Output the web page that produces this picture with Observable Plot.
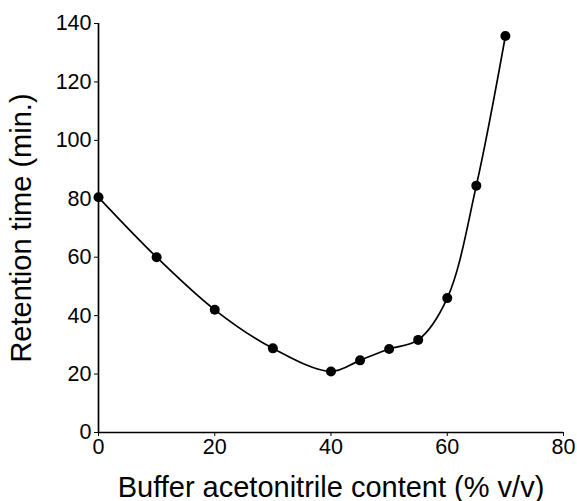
<!DOCTYPE html>
<html>
<head>
<meta charset="utf-8">
<script src="https://cdn.jsdelivr.net/npm/d3@7"></script>
<script src="https://cdn.jsdelivr.net/npm/@observablehq/plot@0.6"></script>
<style>
  html, body { margin: 0; padding: 0; background: #fff; }
  #chart svg { font-family: "Liberation Sans", Arial, Helvetica, sans-serif; }
  #chart g[aria-label="x-axis label"] text,
  #chart g[aria-label="y-axis label"] text { font-size: 29px; }
</style>
</head>
<body>
<div id="chart"></div>
<script>
const acetonitrile = [0, 10, 20, 30, 40, 45, 50, 55, 60, 65, 70];
const retention = [80.5, 60.0, 42.0, 28.8, 20.9, 24.7, 28.6, 31.7, 46.0, 84.5, 135.7];
const xTicks = [0, 20, 40, 60, 80];
const yTicks = [0, 20, 40, 60, 80, 100, 120, 140];
const xLabel = "Buffer acetonitrile content (% v/v)";
const yLabel = "Retention time (min.)";

const data = acetonitrile.map((x, i) => ({x, y: retention[i]}));

const chart = Plot.plot({
  width: 577,
  height: 501,
  marginLeft: 98,
  marginRight: 14,
  marginTop: 23,
  marginBottom: 69,
  style: {fontSize: "21px", color: "#000", background: "#fff"},
  x: {domain: [0, 80]},
  y: {domain: [0, 140]},
  marks: [
    Plot.ruleX([0], {stroke: "#000", strokeWidth: 1.7}),
    Plot.ruleY([0], {stroke: "#000", strokeWidth: 1.7}),
    Plot.axisX({ticks: xTicks, tickSize: 4, tickPadding: 2, fontSize: 21.5,
      label: xLabel, labelAnchor: "center", labelArrow: "none", labelOffset: 64, stroke: "#000"}),
    Plot.axisY({ticks: yTicks, tickSize: 4, tickPadding: 3, fontSize: 21.5,
      label: yLabel, labelAnchor: "center", labelArrow: "none", labelOffset: 88, stroke: "#000"}),
    Plot.line(data, {x: "x", y: "y", curve: "catmull-rom", stroke: "#000", strokeWidth: 1.7}),
    Plot.dot(data, {x: "x", y: "y", r: 5, fill: "#000", stroke: "none"})
  ]
});
document.getElementById("chart").appendChild(chart);
</script>
</body>
</html>
